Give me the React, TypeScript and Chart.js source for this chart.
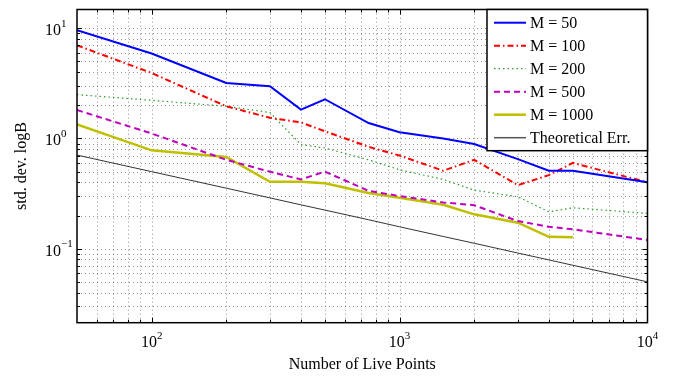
import React, { useEffect, useRef } from "react";
import { Chart, registerables } from "chart.js";

Chart.register(...registerables);

// ---- data ----
const livePoints = [50, 100, 200, 300, 400, 500, 750, 1000, 1500, 2000, 3000, 4000, 5000, 10000];
const m50 = [9.6, 5.9, 3.19, 2.98, 1.83, 2.27, 1.38, 1.14, 1.0, 0.89, 0.65, 0.51, 0.51, 0.4];
const m100 = [7.0, 3.93, 1.96, 1.54, 1.4, 1.16, 0.84, 0.7, 0.51, 0.64, 0.377, 0.465, 0.6, 0.4];
const m200 = [2.5, 2.22, 1.96, 1.72, 0.88, 0.82, 0.64, 0.52, 0.425, 0.34, 0.296, 0.216, 0.235, 0.209];
const m500 = [1.81, 1.11, 0.64, 0.5, 0.425, 0.5, 0.335, 0.3, 0.263, 0.248, 0.178, 0.158, 0.15, 0.12];
const m1000 = [1.34, 0.78, 0.68, 0.405, 0.404, 0.392, 0.32, 0.29, 0.25, 0.205, 0.172, 0.128, 0.127, null];
const theoretical = [0.707, 0.5, 0.354, 0.289, 0.25, 0.224, 0.183, 0.158, 0.129, 0.112, 0.0913, 0.0791, 0.0707, 0.05];

const seriesNames = ["M = 50", "M = 100", "M = 200", "M = 500", "M = 1000", "Theoretical Err."];
const xTickExponents = [2, 3, 4];
const yTickExponents = [-1, 0, 1];
const xTitle = "Number of Live Points";
const yTitle = "std. dev. logB";

const X_MIN = 50;
const X_MAX = 10000;
const Y_MIN = 0.0213;
const Y_MAX = 14.8;

const FONT = '"Liberation Serif", "DejaVu Serif", serif';

const styles = [
  { color: "#0000ff", width: 2, dash: [] as number[] },
  { color: "#ff0000", width: 2, dash: [6, 3, 1.5, 3] },
  { color: "#2a9a2a", width: 1.2, dash: [1.5, 3] },
  { color: "#bf00bf", width: 2, dash: [6, 4] },
  { color: "#bfbf00", width: 2.5, dash: [] as number[] },
  { color: "#333333", width: 1, dash: [] as number[] },
];

const seriesValues = [m50, m100, m200, m500, m1000, theoretical];

function toPoints(vals: (number | null)[]) {
  const pts: { x: number; y: number }[] = [];
  vals.forEach((v, i) => {
    if (v !== null && v !== undefined) pts.push({ x: livePoints[i], y: v });
  });
  return pts;
}

function gridValues(min: number, max: number) {
  const out: number[] = [];
  for (let e = -3; e <= 5; e++) {
    for (let m = 1; m <= 9; m++) {
      const v = m * Math.pow(10, e);
      if (v > min * 1.0001 && v < max * 0.9999) out.push(v);
    }
  }
  return out;
}

const overlay = {
  id: "overlay",
  beforeDatasetsDraw(chart: any) {
    const { ctx, chartArea, scales } = chart;
    const { left, right, top, bottom } = chartArea;
    const x = scales.x;
    const y = scales.y;
    ctx.save();
    ctx.strokeStyle = "rgba(0,0,0,0.42)";
    ctx.lineWidth = 1;
    ctx.setLineDash([1, 3]);
    for (const v of gridValues(X_MIN, X_MAX)) {
      const px = Math.round(x.getPixelForValue(v)) + 0.5;
      ctx.beginPath();
      ctx.moveTo(px, bottom);
      ctx.lineTo(px, top);
      ctx.stroke();
    }
    for (const v of gridValues(Y_MIN, Y_MAX)) {
      const py = Math.round(y.getPixelForValue(v)) + 0.5;
      ctx.beginPath();
      ctx.moveTo(left, py);
      ctx.lineTo(right, py);
      ctx.stroke();
    }
    ctx.restore();
  },
  afterDatasetsDraw(chart: any) {
    const { ctx, chartArea, scales } = chart;
    const { left, right, top, bottom } = chartArea;
    const x = scales.x;
    const y = scales.y;
    ctx.save();
    ctx.setLineDash([]);
    ctx.strokeStyle = "#000";
    ctx.lineWidth = 1;
    const isMajor = (v: number) => Math.abs(Math.log10(v) - Math.round(Math.log10(v))) < 1e-6;
    for (const v of gridValues(X_MIN, X_MAX)) {
      const px = Math.round(x.getPixelForValue(v)) + 0.5;
      const len = isMajor(v) ? 5 : 3;
      ctx.beginPath();
      ctx.moveTo(px, bottom);
      ctx.lineTo(px, bottom - len);
      ctx.moveTo(px, top);
      ctx.lineTo(px, top + len);
      ctx.stroke();
    }
    for (const v of gridValues(Y_MIN, Y_MAX)) {
      const py = Math.round(y.getPixelForValue(v)) + 0.5;
      const len = isMajor(v) ? 5 : 3;
      ctx.beginPath();
      ctx.moveTo(left, py);
      ctx.lineTo(left + len, py);
      ctx.moveTo(right, py);
      ctx.lineTo(right - len, py);
      ctx.stroke();
    }
    ctx.lineWidth = 1.5;
    ctx.strokeRect(left, top, right - left, bottom - top);

    // legend
    const lgL = 487;
    const lgT = top;
    const lgR = right;
    const lgB = 150.7;
    ctx.fillStyle = "#fff";
    ctx.fillRect(lgL, lgT, lgR - lgL, lgB - lgT);
    ctx.lineWidth = 1.5;
    ctx.strokeStyle = "#000";
    ctx.strokeRect(lgL, lgT, lgR - lgL, lgB - lgT);
    ctx.font = `16px ${FONT}`;
    ctx.textBaseline = "middle";
    ctx.textAlign = "left";
    seriesNames.forEach((name, i) => {
      const ry = 22.7 + i * 23;
      const st = styles[i];
      ctx.strokeStyle = i === 5 ? "#555" : st.color;
      ctx.lineWidth = i === 5 ? 1.5 : st.width;
      ctx.setLineDash(st.dash);
      ctx.beginPath();
      ctx.moveTo(494, ry);
      ctx.lineTo(526, ry);
      ctx.stroke();
      ctx.setLineDash([]);
      ctx.fillStyle = "#000";
      ctx.fillText(name, 530, ry + 1);
    });

    // tick labels
    ctx.fillStyle = "#000";
    ctx.textBaseline = "alphabetic";
    for (const e of xTickExponents) {
      const px = x.getPixelForValue(Math.pow(10, e));
      ctx.font = `16px ${FONT}`;
      const w10 = ctx.measureText("10").width;
      ctx.font = `11px ${FONT}`;
      const es = String(e).replace("-", "\u2212");
      const we = ctx.measureText(es).width;
      const start = px - (w10 + we) / 2;
      ctx.font = `16px ${FONT}`;
      ctx.textAlign = "left";
      ctx.fillText("10", start, 346.5);
      ctx.font = `11px ${FONT}`;
      ctx.fillText(es, start + w10, 339);
    }
    for (const e of yTickExponents) {
      const py = y.getPixelForValue(Math.pow(10, e));
      const es = String(e).replace("-", "\u2212");
      ctx.font = `16px ${FONT}`;
      ctx.textAlign = "left";
      const w10 = ctx.measureText("10").width;
      ctx.fillText("10", 45, py + 7);
      ctx.font = `11px ${FONT}`;
      ctx.fillText(es, 45 + w10, py - 1.5);
    }

    // axis titles
    ctx.font = `16px ${FONT}`;
    ctx.textAlign = "center";
    ctx.textBaseline = "middle";
    ctx.fillText(xTitle, (left + right) / 2, 365);
    ctx.save();
    ctx.translate(22, (top + bottom) / 2);
    ctx.rotate(-Math.PI / 2);
    ctx.fillText(yTitle, 0, 0);
    ctx.restore();
    ctx.restore();
  },
};

export default function App() {
  const ref = useRef<HTMLCanvasElement>(null);
  useEffect(() => {
    if (!ref.current) return;
    const chart = new Chart(ref.current, {
      type: "line",
      data: {
        datasets: seriesValues.map((vals, i) => ({
          label: seriesNames[i],
          data: toPoints(vals),
          borderColor: styles[i].color,
          borderWidth: styles[i].width,
          borderDash: styles[i].dash,
          pointRadius: 0,
          fill: false,
          tension: 0,
        })),
      },
      options: {
        animation: false,
        responsive: false,
        devicePixelRatio: 1,
        layout: { padding: { left: 77, right: 28.5, top: 9.5, bottom: 54.3 } },
        plugins: { legend: { display: false }, tooltip: { enabled: false } },
        events: [],
        scales: {
          x: { type: "logarithmic", min: X_MIN, max: X_MAX, display: false },
          y: { type: "logarithmic", min: Y_MIN, max: Y_MAX, display: false },
        },
      },
      plugins: [overlay],
    } as any);
    return () => chart.destroy();
  }, []);
  return (
    <div style={{ position: "fixed", left: 0, top: 0, width: 676, height: 377, background: "#fff" }}>
      <canvas ref={ref} width={676} height={377} style={{ display: "block", width: 676, height: 377 }} />
    </div>
  );
}
